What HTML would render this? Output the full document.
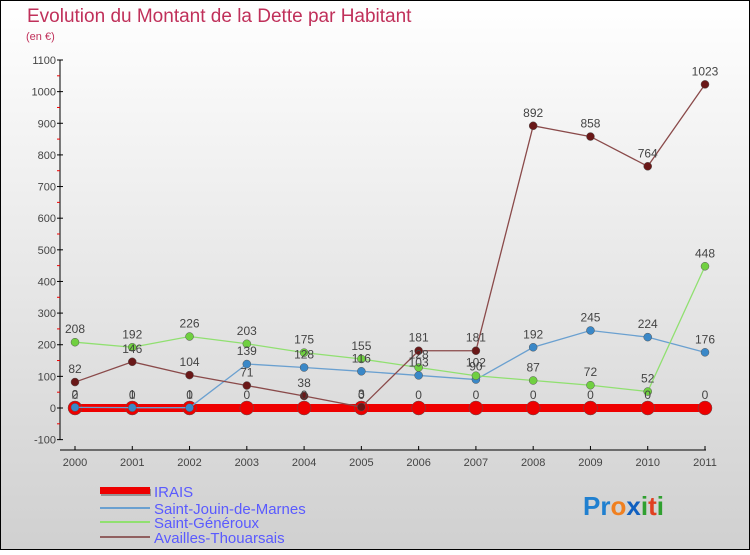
<!DOCTYPE html>
<html><head><meta charset="utf-8"><style>
html,body{margin:0;padding:0}
body{width:750px;height:550px;overflow:hidden;font-family:"Liberation Sans",sans-serif}
</style></head><body>
<svg id="chart" width="750" height="550" xmlns="http://www.w3.org/2000/svg">
<defs><linearGradient id="bg" x1="0" y1="0" x2="0" y2="1"><stop offset="0" stop-color="#ffffff"/><stop offset="1" stop-color="#d0d0d0"/></linearGradient></defs>
<rect x="0.5" y="0.5" width="749" height="549" fill="url(#bg)" stroke="#000"/>
<text x="27" y="22" font-size="19" fill="#c0305a">Evolution du Montant de la Dette par Habitant</text>
<text x="26" y="40" font-size="11" fill="#c0305a">(en €)</text>
<g id="axes"></g><g id="series"></g><g id="labels"></g>
<g font-size="15" fill="#5a5aff">
<rect x="101" y="489" width="50" height="7" fill="#555" opacity="0.5"/><rect x="100" y="487" width="50" height="7" fill="#e00"/>
<text x="154" y="497">IRAIS</text>
<line x1="100" y1="508" x2="150" y2="508" stroke="#6aa0d0" stroke-width="2"/><text x="154" y="514">Saint-Jouin-de-Marnes</text>
<line x1="100" y1="522" x2="150" y2="522" stroke="#90e070" stroke-width="2"/><text x="154" y="528">Saint-Généroux</text>
<line x1="100" y1="537" x2="150" y2="537" stroke="#906060" stroke-width="2"/><text x="154" y="543">Availles-Thouarsais</text>
</g>
<g font-size="26" font-weight="bold">
<text x="583" y="515"><tspan fill="#2080d0">Pr</tspan><tspan fill="#f08020">o</tspan><tspan fill="#1060c0">x</tspan><tspan fill="#30a030">i</tspan><tspan fill="#e04020">t</tspan><tspan fill="#30a030">i</tspan></text>
</g>
</svg>
<script>
const years=[2000,2001,2002,2003,2004,2005,2006,2007,2008,2009,2010,2011];
const yTicks=[-100,0,100,200,300,400,500,600,700,800,900,1000,1100];
const irais=[0,0,0,0,0,0,0,0,0,0,0,0];
const saintJouin=[2,1,1,139,128,116,103,90,192,245,224,176];
const saintGeneroux=[208,192,226,203,175,155,128,102,87,72,52,448];
const availles=[82,146,104,71,38,3,181,181,892,858,764,1023];
const NS="http://www.w3.org/2000/svg";
const X=i=>75+i*(630/11);
const Y=v=>408-v*(348/1100);
function mk(p,t,a){const e=document.createElementNS(NS,t);for(const k in a)e.setAttribute(k,a[k]);p.appendChild(e);return e;}
const ax=document.getElementById('axes'),sg=document.getElementById('series'),lg=document.getElementById('labels');
const yl=mk(ax,'line',{x1:60,y1:Y(1100),x2:60,y2:Y(-100),stroke:'#000'});


const xl=mk(ax,'line',{x1:60,y1:450,x2:706,y2:450,stroke:'#000'});


yTicks.forEach(v=>{
 mk(ax,'line',{x1:57,y1:Y(v),x2:63,y2:Y(v),stroke:'#000'});
 if(v<1100)mk(ax,'line',{x1:57,y1:Y(v+50),x2:60,y2:Y(v+50),stroke:'#e00'});
 const t=mk(ax,'text',{x:56,y:Y(v)+4,'font-size':11,'text-anchor':'end',fill:'#444'});
 
 
 t.textContent=v;
});
years.forEach((yr,i)=>{
 mk(ax,'line',{x1:X(i),y1:450,x2:X(i),y2:446,stroke:'#000'});
 const t=mk(ax,'text',{x:X(i),y:466,'font-size':11,'text-anchor':'middle',fill:'#444'});
 
 
 t.textContent=yr;
});
function series(name,data,color,w,r,dot){
 const g=mk(sg,'g',{});
 
 
 mk(g,'polyline',{points:data.map((v,i)=>X(i)+','+Y(v)).join(' '),fill:'none',stroke:color,'stroke-width':w});
 data.forEach((v,i)=>{
  const c=mk(g,'circle',{cx:X(i),cy:Y(v),r:r,fill:dot,stroke:'#555','stroke-width':0.5});
  
  
  const t=mk(lg,'text',{x:X(i),y:Y(v)-9,'font-size':12,'text-anchor':'middle',fill:'#444'});
  
  
  t.textContent=v;
 });
}
series('irais',irais,'#ee0000',8,7,'#ee0000');
series('saint-jouin-de-marnes',saintJouin,'#6aa0d0',1.3,4,'#3a88c8');
series('saint-generoux',saintGeneroux,'#90e070',1.3,4,'#70d040');
series('availles-thouarsais',availles,'#8a4a4a',1.3,4,'#6a1818');
</script>
</body></html>
